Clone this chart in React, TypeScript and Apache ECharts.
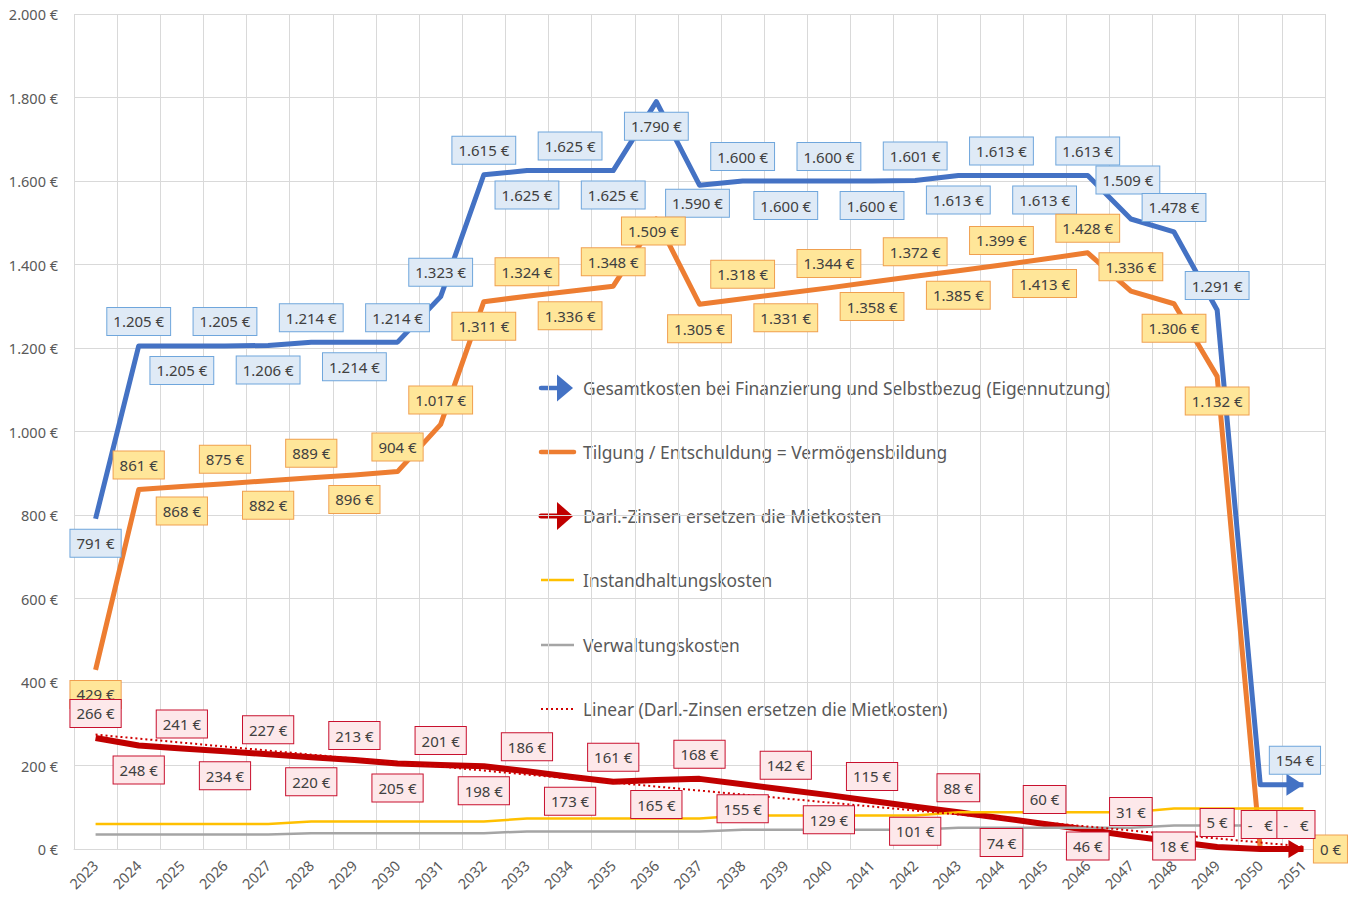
import React, { useEffect, useRef } from 'react';
import * as echarts from 'echarts';

const years = ['2023','2024','2025','2026','2027','2028','2029','2030','2031','2032','2033','2034','2035','2036','2037','2038','2039','2040','2041','2042','2043','2044','2045','2046','2047','2048','2049','2050','2051'];

const gesamtkosten = [791,1205,1205,1205,1206,1214,1214,1214,1323,1615,1625,1625,1625,1790,1590,1600,1600,1600,1600,1601,1613,1613,1613,1613,1509,1478,1291,154,154];
const tilgung = [429,861,868,875,882,889,896,904,1017,1311,1324,1336,1348,1509,1305,1318,1331,1344,1358,1372,1385,1399,1413,1428,1336,1306,1132,0,0];
const zinsen = [266,248,241,234,227,220,213,205,201,198,186,173,161,165,168,155,142,129,115,101,88,74,60,46,31,18,5,0,0];
const instandhaltung = [60,60,60,60,60,66,66,66,66,66,73,73,73,73,73,80,80,80,80,80,88,88,88,88,88,97,97,97,97];
const verwaltung = [35,35,35,35,35,38,38,38,38,38,42,42,42,42,42,46,46,46,46,46,51,51,51,51,51,56,56,56,56];
// linear trend of the interest series: value at first and at last year
const trendZinsen = [274, 6];

const yMin = 0;
const yMax = 2000;
const yStep = 200;

const names = [
  'Gesamtkosten bei Finanzierung und Selbstbezug (Eigennutzung)',
  'Tilgung / Entschuldung = Vermögensbildung',
  'Darl.-Zinsen ersetzen die Mietkosten',
  'Instandhaltungskosten',
  'Verwaltungskosten',
  'Linear (Darl.-Zinsen ersetzen die Mietkosten)',
];

// label placement codes (layout, not data)
const bluePos = ['B','T','B','T','B','T','B','T','T','T','B','T','B','B','X','T','B','T','B','T','B','T','B','T','X','T','T','N','T'];
const orangePos = ['B','T','B','T','B','T','B','T','T','B','T','B','T','X','B','T','B','T','B','T','B','T','B','T','T','B','B','N','R'];
const redPos = ['T','B','T','B','T','B','T','B','T','B','T','B','T','B','T','B','T','B','T','B','T','B','T','B','T','B','T','T','T'];

const BLUE = '#4472c4';
const ORANGE = '#ed7d31';
const RED = '#c00000';
const YELLOW = '#ffc000';
const GRAY = '#a5a5a5';
const FONT = '"Noto Sans", "DejaVu Sans", sans-serif';

const GRID_TOP = 14;
const GRID_BOTTOM_Y = 849;
const PPU = (GRID_BOTTOM_Y - GRID_TOP) / (yMax - yMin);

function fmtNum(v: number): string {
  if (v >= 1000) return Math.floor(v / 1000) + '.' + String(v % 1000).padStart(3, '0');
  return String(v);
}
function fmtEuro(v: number): string {
  if (v === 0) return '-\u00a0\u00a0\u00a0€';
  return fmtNum(v) + ' €';
}

function buildData(values: number[], pos: string[], special: Record<number, any>, arrowColor?: string, arrowSize?: number[]) {
  return values.map((v, i) => {
    const p = pos[i];
    const py = GRID_BOTTOM_Y - v * PPU;
    let offset: number[] = [0, 0];
    if (p === 'T') offset = [0, -24.5];
    else if (p === 'B') offset = [0, Math.min(24.5, 846 - py)];
    const item: any = { value: v, label: { show: p !== 'N', offset } };
    if (special[i]) {
      item.label = { ...item.label, ...special[i] };
    }
    if (arrowColor && i === values.length - 1) {
      const s = arrowSize || [22, 17];
      item.symbol = 'triangle';
      item.symbolSize = s;
      item.symbolRotate = -90;
      item.symbolOffset = [-s[1] / 2, 0];
      item.itemStyle = { color: arrowColor };
    }
    return item;
  });
}

function labelBox(fill: string, border: string) {
  return {
    show: true,
    position: 'inside',
    color: '#404040',
    fontFamily: FONT,
    fontSize: 15,
    lineHeight: 18,
    backgroundColor: fill,
    borderColor: border,
    borderWidth: 1,
    padding: [5, 6, 4, 6],
    formatter: (p: any) => fmtEuro(p.value),
  };
}

function legendGraphics() {
  const x0 = 541;
  const tx = 583;
  const ys = [388, 452, 516, 580, 645, 709];
  const els: any[] = [];
  els.push({ type: 'line', shape: { x1: x0, y1: ys[0], x2: 561, y2: ys[0] }, style: { stroke: BLUE, lineWidth: 4.5, lineCap: 'round' } });
  els.push({ type: 'polygon', shape: { points: [[557, ys[0] - 13.5], [573, ys[0]], [557, ys[0] + 13.5]] }, style: { fill: BLUE } });
  els.push({ type: 'line', shape: { x1: x0, y1: ys[1], x2: 574, y2: ys[1] }, style: { stroke: ORANGE, lineWidth: 4.5, lineCap: 'round' } });
  els.push({ type: 'line', shape: { x1: x0, y1: ys[2], x2: 561, y2: ys[2] }, style: { stroke: RED, lineWidth: 5, lineCap: 'round' } });
  els.push({ type: 'polygon', shape: { points: [[557, ys[2] - 14], [573, ys[2]], [557, ys[2] + 14]] }, style: { fill: RED } });
  els.push({ type: 'line', shape: { x1: x0, y1: ys[3], x2: 574, y2: ys[3] }, style: { stroke: YELLOW, lineWidth: 2.5 } });
  els.push({ type: 'line', shape: { x1: x0, y1: ys[4], x2: 574, y2: ys[4] }, style: { stroke: GRAY, lineWidth: 2.5 } });
  els.push({ type: 'line', shape: { x1: x0, y1: ys[5], x2: 574, y2: ys[5] }, style: { stroke: '#d00000', lineWidth: 2, lineDash: [2, 3] } });
  names.forEach((n, i) => {
    els.push({
      type: 'text',
      x: tx,
      y: ys[i],
      style: { text: n, fill: '#595959', fontFamily: FONT, fontSize: 17.4, verticalAlign: 'middle', align: 'left' },
    });
  });
  return els;
}

export default function App() {
  const ref = useRef<HTMLDivElement>(null);
  useEffect(() => {
    if (!ref.current) return;
    const chart = echarts.init(ref.current, null, { renderer: 'svg' });

    const blueData = buildData(gesamtkosten, bluePos, { 14: { offset: [-2, 18] }, 24: { offset: [-3, -39] } }, BLUE);
    const orangeData = buildData(tilgung, orangePos, {
      13: { offset: [-3, 12] },
      28: { offset: [27, 0], formatter: '0 €' },
    });
    const redData = buildData(zinsen, redPos, {}, RED, [18, 15]);
    const trendData = years.map((_, i) => (i === 0 ? trendZinsen[0] : i === years.length - 1 ? trendZinsen[1] : null));

    const option: any = {
      animation: false,
      backgroundColor: '#ffffff',
      grid: { left: 74, right: 28, top: GRID_TOP, bottom: 898 - GRID_BOTTOM_Y, containLabel: false },
      xAxis: {
        type: 'category',
        data: years,
        boundaryGap: true,
        axisTick: { show: false },
        axisLine: { show: true, lineStyle: { color: '#d9d9d9', width: 1 } },
        splitLine: { show: true, lineStyle: { color: '#d9d9d9', width: 1 } },
        axisLabel: { rotate: 45, interval: 0, color: '#595959', fontFamily: FONT, fontSize: 14.5, margin: 14 },
      },
      yAxis: {
        type: 'value',
        min: yMin,
        max: yMax,
        interval: yStep,
        axisLine: { show: false },
        axisTick: { show: false },
        splitLine: { show: true, lineStyle: { color: '#d9d9d9', width: 1 } },
        axisLabel: { color: '#595959', fontFamily: FONT, fontSize: 14.5, margin: 16, formatter: (v: number) => fmtNum(v) + ' €' },
      },
      series: [
        {
          name: names[0], type: 'line', data: blueData, color: BLUE,
          symbol: 'circle', symbolSize: 2, itemStyle: { color: 'transparent' },
          lineStyle: { color: BLUE, width: 5, join: 'round' },
          label: labelBox('#dfeaf6', '#6fa6dc'),
        },
        {
          name: names[1], type: 'line', data: orangeData, color: ORANGE,
          symbol: 'circle', symbolSize: 2, itemStyle: { color: 'transparent' },
          lineStyle: { color: ORANGE, width: 5, join: 'round' },
          label: labelBox('#ffe699', '#f0a050'),
        },
        {
          name: names[2], type: 'line', data: redData, color: RED,
          symbol: 'circle', symbolSize: 2, itemStyle: { color: 'transparent' },
          lineStyle: { color: RED, width: 6, join: 'round' },
          label: labelBox('#fde8ea', '#c8102e'),
        },
        {
          name: names[3], type: 'line', data: instandhaltung, color: YELLOW,
          symbol: 'none', lineStyle: { color: YELLOW, width: 2.5 },
        },
        {
          name: names[4], type: 'line', data: verwaltung, color: GRAY,
          symbol: 'none', lineStyle: { color: GRAY, width: 2.5 },
        },
        {
          name: names[5], type: 'line', data: trendData, color: '#d00000', connectNulls: true,
          symbol: 'none', lineStyle: { color: '#d00000', width: 2, type: [2, 3] },
        },
      ],
      graphic: legendGraphics(),
    };
    chart.setOption(option);
    return () => chart.dispose();
  }, []);
  return <div ref={ref} style={{ position: 'absolute', left: 0, top: 0, width: 1353, height: 898, background: '#fff' }} />;
}
